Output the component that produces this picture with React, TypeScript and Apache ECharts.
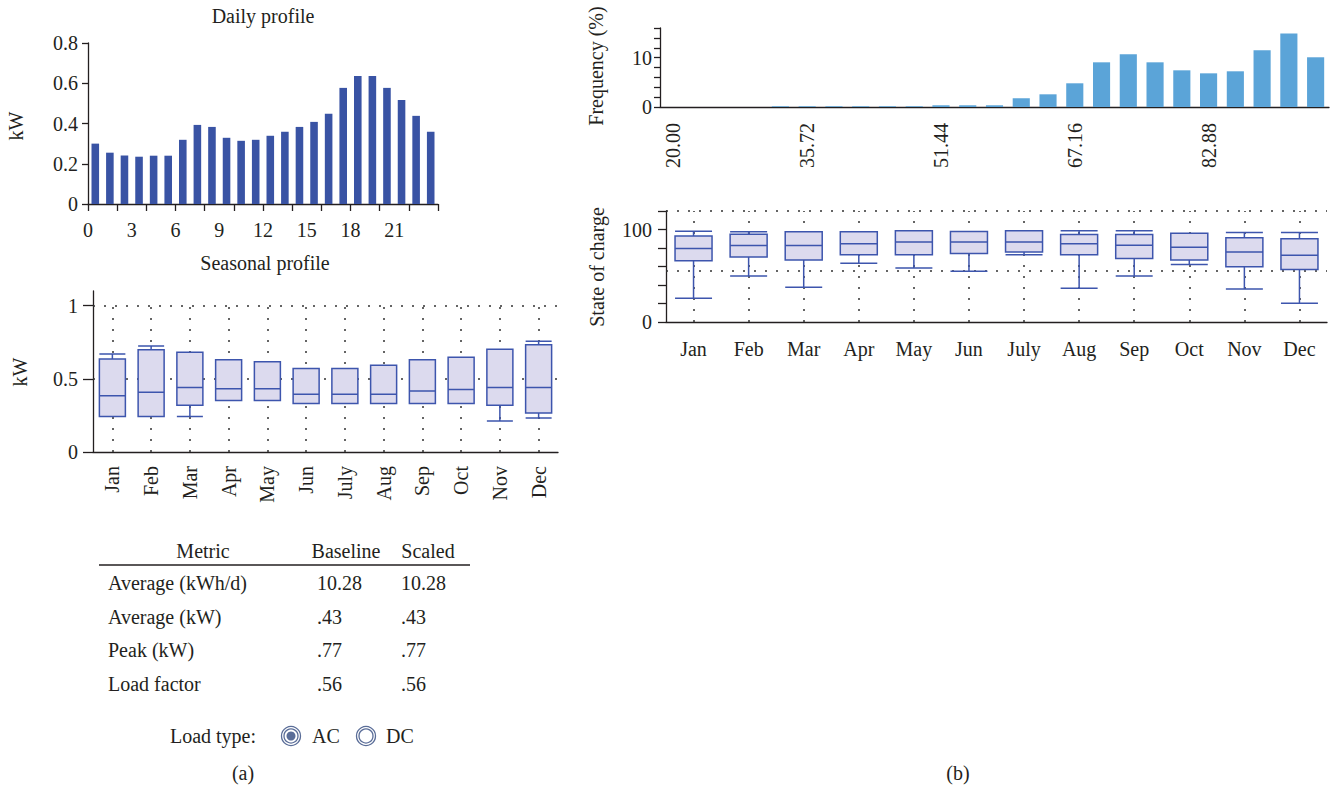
import React, { useEffect, useRef } from "react";
import * as echarts from "echarts";

// ---------- data ----------
const hours = ["0","1","2","3","4","5","6","7","8","9","10","11","12","13","14","15","16","17","18","19","20","21","22","23"];
const dailyKw = [0.30, 0.255, 0.241, 0.235, 0.24, 0.24, 0.319, 0.393, 0.383, 0.329, 0.314, 0.319, 0.339, 0.359, 0.383, 0.408, 0.448, 0.577, 0.636, 0.636, 0.577, 0.517, 0.438, 0.359];

const months = ["Jan","Feb","Mar","Apr","May","Jun","July","Aug","Sep","Oct","Nov","Dec"];
// [min, Q1, median, Q3, max]
const seasonalBox = [
  [0.243, 0.243, 0.384, 0.636, 0.67],
  [0.243, 0.243, 0.409, 0.698, 0.725],
  [0.243, 0.32, 0.441, 0.682, 0.682],
  [0.352, 0.352, 0.432, 0.63, 0.63],
  [0.352, 0.352, 0.432, 0.616, 0.616],
  [0.332, 0.332, 0.395, 0.57, 0.57],
  [0.332, 0.332, 0.395, 0.57, 0.57],
  [0.332, 0.332, 0.395, 0.593, 0.593],
  [0.332, 0.332, 0.416, 0.63, 0.63],
  [0.332, 0.332, 0.427, 0.648, 0.648],
  [0.211, 0.32, 0.441, 0.702, 0.702],
  [0.232, 0.266, 0.441, 0.732, 0.757],
];

const socBins = ["20.00","23.14","26.29","29.43","32.58","35.72","38.86","42.01","45.15","48.30","51.44","54.58","57.73","60.87","64.02","67.16","70.30","73.45","76.59","79.74","82.88","86.02","89.17","92.31","95.46"];
const socFreq = [0, 0, 0, 0, 0.15, 0.15, 0.15, 0.15, 0.15, 0.15, 0.35, 0.35, 0.35, 1.76, 2.57, 4.8, 9.05, 10.7, 9.05, 7.43, 6.82, 7.23, 11.5, 14.9, 10.07];

const socBox = [
  [25.6, 66.1, 79.4, 93.1, 98.2],
  [49.8, 70.4, 82.7, 94.9, 97.5],
  [37.5, 67.1, 82.7, 97.5, 97.5],
  [63.5, 72.6, 84.5, 97.5, 97.5],
  [58.5, 72.6, 86.6, 98.6, 98.6],
  [54.9, 74.0, 86.6, 97.8, 97.8],
  [72.6, 75.8, 86.6, 98.6, 98.6],
  [36.5, 72.6, 84.5, 94.6, 98.6],
  [49.8, 68.6, 83.0, 94.6, 98.6],
  [62.1, 67.1, 80.9, 96.0, 96.0],
  [35.7, 59.6, 75.8, 91.0, 96.8],
  [20.2, 56.7, 72.2, 89.9, 96.8],
];
const socThreshold = 55;
const socTop = 120;

const tableHeader = ["Metric", "Baseline", "Scaled"];
const tableMetrics = ["Average (kWh/d)", "Average (kW)", "Peak (kW)", "Load factor"];
const baselineVals = ["10.28", ".43", ".77", ".56"];
const scaledVals = ["10.28", ".43", ".77", ".56"];

// ---------- styles ----------
const FONT = '"Liberation Serif", "Times New Roman", serif';
const FS = 20;
const INK = "#231f20";
const BOX_FILL = "#dcdaee";
const BOX_EDGE = "#3d55ad";
const RADIO = "#5a6d98";

const axisLineStyle = { color: INK, width: 1.3 };
const lbl = (extra: any = {}) => ({ color: INK, fontFamily: FONT, fontSize: FS, ...extra });
const dotted = { type: [2, 9] as any, color: "#333", width: 1.5 };

function txt(text: string, x: number, y: number, align = "center", size = FS, rotation = 0): any {
  return {
    type: "text",
    x,
    y,
    rotation,
    style: { text, fill: INK, font: `${size}px ${FONT}`, textAlign: align, textVerticalAlign: "middle" },
  };
}

export default function App() {
  const ref = useRef<HTMLDivElement>(null);

  useEffect(() => {
    if (!ref.current) return;
    const chart = echarts.init(ref.current, null, { renderer: "svg" });

    const rowYs = [583, 617, 650, 684];
    const graphics: any[] = [
      txt("Daily profile", 263, 16),
      txt("Seasonal profile", 265, 263),
      txt("kW", 16, 126, "center", FS, Math.PI / 2),
      txt("kW", 20, 372, "center", FS, Math.PI / 2),
      txt("Frequency (%)", 596, 66, "center", FS, Math.PI / 2),
      txt("State of charge", 597, 267, "center", FS, Math.PI / 2),
      txt(tableHeader[0], 203, 551),
      txt(tableHeader[1], 346, 551),
      txt(tableHeader[2], 428, 551),
      { type: "line", shape: { x1: 99, y1: 565, x2: 470, y2: 565 }, style: { stroke: INK, lineWidth: 1.5 } },
      ...tableMetrics.map((m, i) => txt(m, 108, rowYs[i], "left")),
      ...baselineVals.map((v, i) => txt(v, 317, rowYs[i], "left")),
      ...scaledVals.map((v, i) => txt(v, 401, rowYs[i], "left")),
      txt("Load type:", 213, 736),
      { type: "circle", shape: { cx: 291, cy: 736, r: 9.5 }, style: { fill: "none", stroke: RADIO, lineWidth: 1.3 } },
      { type: "circle", shape: { cx: 291, cy: 736, r: 7 }, style: { fill: "none", stroke: RADIO, lineWidth: 1.3 } },
      { type: "circle", shape: { cx: 291, cy: 736, r: 4.5 }, style: { fill: RADIO } },
      txt("AC", 312, 736, "left"),
      { type: "circle", shape: { cx: 366, cy: 736, r: 9.5 }, style: { fill: "none", stroke: RADIO, lineWidth: 1.3 } },
      { type: "circle", shape: { cx: 366, cy: 736, r: 7 }, style: { fill: "none", stroke: RADIO, lineWidth: 1.3 } },
      txt("DC", 386, 736, "left"),
      txt("(a)", 243, 773),
      txt("(b)", 958, 773),
    ];

    const monthGuides = (top: number) => months.map((m) => [{ coord: [m, 0] }, { coord: [m, top] }]);

    const option: any = {
      animation: false,
      textStyle: { fontFamily: FONT, color: INK },
      grid: [
        { left: 88, top: 43, width: 350, height: 161 },
        { left: 93, top: 291, width: 465, height: 161 },
        { left: 660, top: 28, width: 669, height: 79 },
        { left: 666, top: 211, width: 661, height: 111 },
      ],
      xAxis: [
        {
          type: "category", gridIndex: 0, data: hours, position: "bottom", boundaryGap: true,
          axisLine: { lineStyle: axisLineStyle },
          axisTick: { show: true, length: 7, lineStyle: axisLineStyle },
          axisLabel: { show: false },
          splitLine: { show: false },
        },
        {
          type: "value", gridIndex: 0, min: 0, max: 24, interval: 3, position: "bottom",
          axisLine: { show: false }, axisTick: { show: false }, splitLine: { show: false },
          axisLabel: lbl({ margin: 16, formatter: (v: number) => (v === 24 ? "" : String(v)) }),
        },
        {
          type: "category", gridIndex: 1, data: months, boundaryGap: true,
          axisLine: { lineStyle: axisLineStyle },
          axisTick: { alignWithLabel: true, length: 9, lineStyle: axisLineStyle },
          axisLabel: lbl({ rotate: 90, margin: 14, interval: 0 }),
          splitLine: { show: false },
        },
        {
          type: "category", gridIndex: 2, data: socBins, boundaryGap: true,
          axisLine: { lineStyle: axisLineStyle },
          axisTick: { length: 6, interval: 0, lineStyle: axisLineStyle },
          axisLabel: lbl({ rotate: 90, margin: 16, interval: 4 }),
          splitLine: { show: false },
        },
        {
          type: "category", gridIndex: 3, data: months, boundaryGap: true,
          axisLine: { lineStyle: axisLineStyle },
          axisTick: { alignWithLabel: true, length: 8, lineStyle: axisLineStyle },
          axisLabel: lbl({ margin: 17, interval: 0 }),
          splitLine: { show: false },
        },
      ],
      yAxis: [
        {
          type: "value", gridIndex: 0, min: 0, max: 0.8, interval: 0.2,
          axisLine: { show: true, lineStyle: axisLineStyle },
          axisTick: { show: true, length: 6, lineStyle: axisLineStyle },
          axisLabel: lbl({ margin: 10, formatter: (v: number) => (v === 0 ? "0" : v.toFixed(1)) }),
          splitLine: { show: false },
        },
        {
          type: "value", gridIndex: 1, min: 0, max: 1.1,
          axisLine: { show: true, lineStyle: axisLineStyle },
          axisTick: { show: true, length: 10, lineStyle: axisLineStyle, customValues: [0, 0.5, 1] },
          axisLabel: lbl({ margin: 15, customValues: [0, 0.5, 1], formatter: (v: number) => String(v) }),
          splitLine: { show: false },
        },
        {
          type: "value", gridIndex: 2, min: 0, max: 16, interval: 2,
          axisLine: { show: true, lineStyle: axisLineStyle },
          axisTick: { show: true, length: 6, lineStyle: axisLineStyle },
          axisLabel: lbl({ margin: 8, formatter: (v: number) => (v === 0 || v === 10 ? String(v) : "") }),
          splitLine: { show: false },
        },
        {
          type: "value", gridIndex: 3, min: 0, max: socTop, interval: 20,
          axisLine: { show: true, lineStyle: axisLineStyle },
          axisTick: { show: true, length: 8, lineStyle: axisLineStyle },
          axisLabel: lbl({ margin: 14, formatter: (v: number) => (v === 0 || v === 100 ? String(v) : "") }),
          splitLine: { show: false },
        },
      ],
      series: [
        {
          type: "bar", xAxisIndex: 0, yAxisIndex: 0, data: dailyKw, barWidth: "52%",
          itemStyle: { color: "#3953a4" },
        },
        {
          type: "boxplot", xAxisIndex: 2, yAxisIndex: 1, data: seasonalBox, boxWidth: [26, 26],
          itemStyle: { color: BOX_FILL, borderColor: BOX_EDGE, borderWidth: 1.5 },
          markLine: {
            z: 1, silent: true, symbol: ["none", "none"], label: { show: false },
            lineStyle: dotted,
            data: [{ yAxis: 1 }, { yAxis: 0.5 }, ...monthGuides(1)],
          },
        },
        {
          type: "bar", xAxisIndex: 3, yAxisIndex: 2, data: socFreq, barWidth: "64%",
          itemStyle: { color: "#5ba4d8" },
        },
        {
          type: "boxplot", xAxisIndex: 4, yAxisIndex: 3, data: socBox, boxWidth: [37, 37],
          itemStyle: { color: BOX_FILL, borderColor: BOX_EDGE, borderWidth: 1.5 },
          markLine: {
            z: 1, silent: true, symbol: ["none", "none"], label: { show: false },
            lineStyle: dotted,
            data: [{ yAxis: socTop }, { yAxis: socThreshold }, ...monthGuides(socTop)],
          },
        },
      ],
      graphic: graphics,
    };

    chart.setOption(option);
    return () => chart.dispose();
  }, []);

  return (
    <div
      ref={ref}
      style={{ position: "absolute", left: 0, top: 0, width: 1338, height: 790, background: "#fff" }}
    />
  );
}
